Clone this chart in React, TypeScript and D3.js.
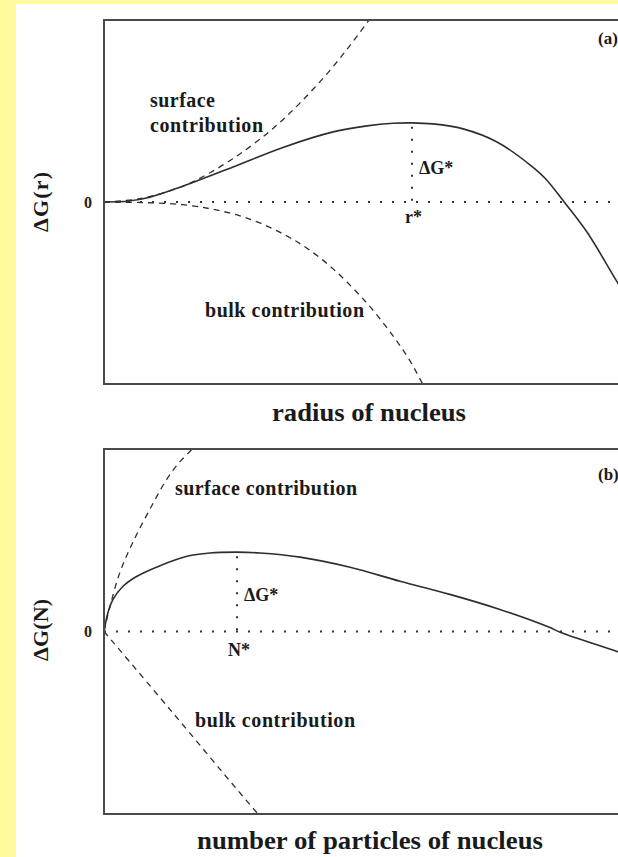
import React from "react";
import * as d3 from "d3";

// Panel (a): ΔG vs radius r (units: r* = 1, ΔG* = 1)
const totalA: [number, number][] = [
  [0, 0], [0.08, 0.012], [0.149, 0.06], [0.256, 0.2], [0.419, 0.443], [0.581, 0.69],
  [0.744, 0.886], [0.854, 0.962], [0.938, 0.995], [1.0, 1.0], [1.068, 0.987],
  [1.166, 0.924], [1.276, 0.759], [1.383, 0.47], [1.432, 0.3], [1.494, 0],
  [1.568, -0.38], [1.666, -1.01], [1.75, -1.55],
];
const surfaceA: [number, number][] = [
  [0, 0], [0.117, 0.042], [0.256, 0.2], [0.344, 0.37], [0.442, 0.61],
  [0.549, 0.93], [0.636, 1.25], [0.724, 1.62], [0.799, 1.98], [0.864, 2.32],
  [0.9, 2.52],
];
const bulkA: [number, number][] = [
  [0, 0], [0.256, -0.034], [0.419, -0.15], [0.506, -0.265], [0.594, -0.43],
  [0.659, -0.585], [0.744, -0.845], [0.854, -1.28], [0.938, -1.69], [0.994, -2.01],
  [1.032, -2.28], [1.06, -2.47],
];
const critA = { x: 1.0, y: 1.0 };

// Panel (b): ΔG vs number of particles N (units: N* = 1, ΔG* = 1)
const totalB: [number, number][] = [
  [0, 0], [0.03, 0.24], [0.068, 0.405], [0.143, 0.57], [0.248, 0.696],
  [0.421, 0.83], [0.624, 0.949], [0.797, 0.99], [1.0, 1.0], [1.173, 0.99],
  [1.474, 0.937], [1.85, 0.81], [2.226, 0.633], [2.6, 0.468], [2.977, 0.278],
  [3.353, 0.05], [3.43, -0.01], [3.857, -0.253], [4.0, -0.34],
];
const surfaceB: [number, number][] = [
  [0, 0], [0.045, 0.316], [0.12, 0.747], [0.218, 1.127], [0.346, 1.544],
  [0.474, 1.924], [0.571, 2.14], [0.662, 2.3], [0.7, 2.4],
];
const bulkB: [number, number][] = [
  [0, 0], [0.5, -0.99], [1.0, -1.99], [1.158, -2.3], [1.2, -2.38],
];
const critB = { x: 1.0, y: 1.0 };

const FONT = "Liberation Serif, Times New Roman, Times, serif";
const LINE = "#2e2e2e";
const FRAME = "#4a4a4a";

type Panel = {
  id: string;
  top: number;
  bottom: number;
  xMax: number;
  xPx: number;
  total: [number, number][];
  surface: [number, number][];
  bulk: [number, number][];
  crit: { x: number; y: number };
};

const LEFT = 104;

function PanelView({ p }: { p: Panel }) {
  const x = d3.scaleLinear().domain([0, p.xMax]).range([LEFT, LEFT + p.xMax * p.xPx]);
  const y = d3.scaleLinear().domain([-2.3, 2.3]).range([p.bottom, p.top]);
  const line = d3
    .line<[number, number]>()
    .x((d) => x(d[0]))
    .y((d) => y(d[1]))
    .curve(d3.curveCatmullRom.alpha(0.5));
  return (
    <g>
      <defs>
        <clipPath id={"clip" + p.id}>
          <rect x={LEFT} y={p.top} width={700} height={p.bottom - p.top} />
        </clipPath>
      </defs>
      <g clipPath={`url(#clip${p.id})`}>
        <line
          x1={LEFT}
          x2={700}
          y1={y(0)}
          y2={y(0)}
          stroke="#333"
          strokeWidth={2}
          strokeDasharray="2 10"
        />
        <line
          x1={x(p.crit.x)}
          x2={x(p.crit.x)}
          y1={y(p.crit.y) + 4}
          y2={y(0)}
          stroke="#333"
          strokeWidth={2}
          strokeDasharray="2 10"
        />
        <path d={line(p.surface) || ""} fill="none" stroke={LINE} strokeWidth={1.3} strokeDasharray="6 5" />
        <path d={line(p.bulk) || ""} fill="none" stroke={LINE} strokeWidth={1.3} strokeDasharray="6 5" />
        <path d={line(p.total) || ""} fill="none" stroke={LINE} strokeWidth={1.6} />
      </g>
      <rect
        x={LEFT}
        y={p.top}
        width={560}
        height={p.bottom - p.top}
        fill="none"
        stroke={FRAME}
        strokeWidth={2}
      />
      <text x={88} y={y(0)} dy="0.35em" textAnchor="middle" fontFamily={FONT} fontSize={16} fontWeight="bold" fill="#222">
        0
      </text>
    </g>
  );
}

export default function App() {
  const pA: Panel = { id: "a", top: 20, bottom: 384, xMax: 1.75, xPx: 308, total: totalA, surface: surfaceA, bulk: bulkA, crit: critA };
  const pB: Panel = { id: "b", top: 449, bottom: 814, xMax: 4.0, xPx: 133, total: totalB, surface: surfaceB, bulk: bulkB, crit: critB };
  const t = { fontFamily: FONT, fontWeight: "bold" as const, fill: "#1a1a1a" };
  return (
    <svg
      width={618}
      height={857}
      style={{ position: "fixed", left: 0, top: 0, display: "block" }}
    >
      <rect x={0} y={0} width={618} height={857} fill="#FFFB9C" />
      <rect x={16} y={4} width={602} height={853} fill="#FFFFFF" />
      <PanelView p={pA} />
      <PanelView p={pB} />

      {/* Panel (a) texts */}
      <text x={598} y={44} fontSize={17} {...t}>(a)</text>
      <text x={150} y={107} fontSize={20} textLength={65} lengthAdjust="spacing" {...t}>surface</text>
      <text x={150} y={132} fontSize={20} textLength={113} lengthAdjust="spacing" {...t}>contribution</text>
      <text x={419} y={174} fontSize={18} {...t}>ΔG*</text>
      <text x={405} y={223} fontSize={18} {...t}>r*</text>
      <text x={205} y={317} fontSize={20} textLength={159} lengthAdjust="spacing" {...t}>bulk contribution</text>
      <text x={272} y={421} fontSize={26} textLength={194} lengthAdjust="spacingAndGlyphs" {...t}>radius of nucleus</text>
      <text transform="translate(48,202) rotate(-90)" textAnchor="middle" fontSize={22} textLength={60} lengthAdjust="spacing" {...t}>ΔG(r)</text>

      {/* Panel (b) texts */}
      <text x={598} y={480} fontSize={17} {...t}>(b)</text>
      <text x={175} y={495} fontSize={20} textLength={182} lengthAdjust="spacing" {...t}>surface contribution</text>
      <text x={244} y={601} fontSize={18} {...t}>ΔG*</text>
      <text x={228} y={656} fontSize={18} {...t}>N*</text>
      <text x={195} y={727} fontSize={20} textLength={160} lengthAdjust="spacing" {...t}>bulk contribution</text>
      <text x={197} y={849} fontSize={26} textLength={346} lengthAdjust="spacingAndGlyphs" {...t}>number of particles of nucleus</text>
      <text transform="translate(48,630) rotate(-90)" textAnchor="middle" fontSize={22} textLength={62} lengthAdjust="spacing" {...t}>ΔG(N)</text>
    </svg>
  );
}
